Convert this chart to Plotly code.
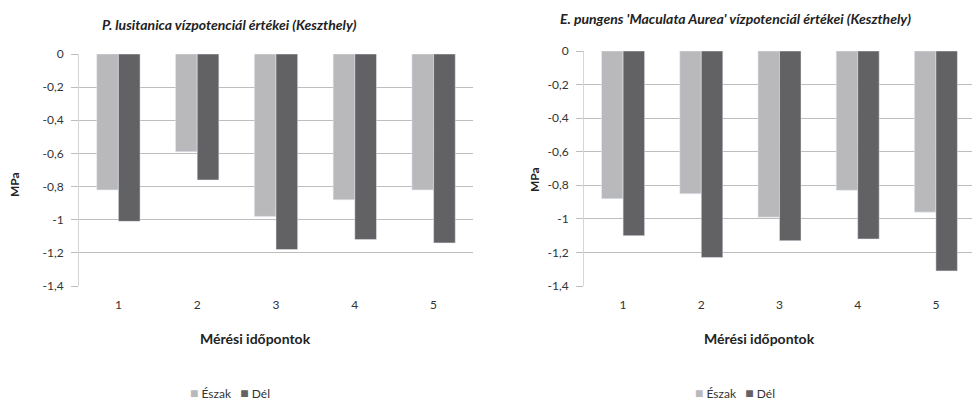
import plotly.graph_objects as go

categories = ["1", "2", "3", "4", "5"]
series_names = ["Észak", "Dél"]
left_north = [-0.82, -0.59, -0.98, -0.88, -0.82]
left_south = [-1.01, -0.76, -1.18, -1.12, -1.14]
right_north = [-0.88, -0.85, -0.99, -0.83, -0.96]
right_south = [-1.10, -1.23, -1.13, -1.12, -1.31]
tick_vals = [0, -0.2, -0.4, -0.6, -0.8, -1, -1.2, -1.4]
tick_text = ["0", "-0,2", "-0,4", "-0,6", "-0,8", "-1", "-1,2", "-1,4"]
title_left = "P. lusitanica vízpotenciál értékei (Keszthely)"
title_right = "E. pungens 'Maculata Aurea' vízpotenciál értékei (Keszthely)"
x_title = "Mérési időpontok"
y_title = "MPa"

C_N = "#b9b9bc"
C_S = "#626264"
FONT = "Lato"
W, H = 980, 403
OFF = 8  # default page body margin

fig = go.Figure()
fig.add_trace(go.Bar(x=categories, y=left_north, name=series_names[0], marker_color=C_N,
                     xaxis="x", yaxis="y", showlegend=False))
fig.add_trace(go.Bar(x=categories, y=left_south, name=series_names[1], marker_color=C_S,
                     xaxis="x", yaxis="y", showlegend=False))
fig.add_trace(go.Bar(x=categories, y=right_north, name=series_names[0], marker_color=C_N,
                     xaxis="x2", yaxis="y2", showlegend=False))
fig.add_trace(go.Bar(x=categories, y=right_south, name=series_names[1], marker_color=C_S,
                     xaxis="x2", yaxis="y2", showlegend=False))

def px(x):
    return (x - OFF) / W

def py(y):
    return 1 - (y - OFF) / H

xcommon = dict(showgrid=False, zeroline=False, showline=False, ticks="", automargin=False,
               ticklabelstandoff=10, tickfont=dict(size=12, color="#333"))
ycommon = dict(range=[-1.4, 0], tickvals=tick_vals, ticktext=tick_text, automargin=False,
               showgrid=True, gridcolor="#bdbdbd", gridwidth=1, zeroline=False,
               showline=True, linecolor="#d6d6d6", ticks="outside", ticklen=7,
               tickcolor="#bdbdbd", ticklabelstandoff=5, tickfont=dict(size=12, color="#333"))
topcommon = dict(side="top", showline=True, linecolor="#bdbdbd", ticks="inside", ticklen=5,
                 tickcolor="#bdbdbd", tickvals=[0.5, 1.5, 2.5, 3.5, 4.5], automargin=False,
                 showticklabels=False, showgrid=False, zeroline=False, range=[-0.5, 4.5])

fig.update_layout(
    width=W, height=H,
    margin=dict(l=0, r=0, t=0, b=0, autoexpand=False),
    paper_bgcolor="white", plot_bgcolor="white",
    font=dict(family=FONT, size=12, color="#333"),
    separators=", ",
    barmode="group", bargap=0.45, bargroupgap=0,
    xaxis=dict(domain=[px(79), px(473)], anchor="y", **xcommon),
    yaxis=dict(domain=[py(286), py(54)], anchor="x", **ycommon),
    xaxis2=dict(domain=[px(584), px(975)], anchor="y2", **xcommon),
    yaxis2=dict(domain=[py(286), py(51)], anchor="x2", **ycommon),
    xaxis3=dict(overlaying="x", anchor="y", **topcommon),
    xaxis4=dict(overlaying="x2", anchor="y2", **topcommon),
    showlegend=False,
)

legend_text = (f'<span style="color:{C_N};font-size:14px">■</span> {series_names[0]}'
               f'&nbsp;&nbsp;&nbsp;<span style="color:{C_S};font-size:14px">■</span> {series_names[1]}')

ann = []
ann.append(dict(text="<b><i>" + title_left + "</i></b>", x=px(229), y=py(25), xref="paper", yref="paper",
                showarrow=False, font=dict(size=14, color="#222"), xanchor="center", yanchor="middle"))
ann.append(dict(text="<b><i>" + title_right + "</i></b>", x=px(735), y=py(18), xref="paper", yref="paper",
                showarrow=False, font=dict(size=14, color="#222"), xanchor="center", yanchor="middle"))
ann.append(dict(text="<b>" + x_title + "</b>", x=px(256), y=py(338), xref="paper", yref="paper",
                showarrow=False, font=dict(size=14, color="#222"), xanchor="center", yanchor="middle"))
ann.append(dict(text="<b>" + x_title + "</b>", x=px(759), y=py(338), xref="paper", yref="paper",
                showarrow=False, font=dict(size=14, color="#222"), xanchor="center", yanchor="middle"))
ann.append(dict(text="<b>" + y_title + "</b>", x=px(14), y=py(185), xref="paper", yref="paper",
                showarrow=False, textangle=-90, font=dict(size=12, color="#222"),
                xanchor="center", yanchor="middle"))
ann.append(dict(text="<b>" + y_title + "</b>", x=px(534), y=py(180), xref="paper", yref="paper",
                showarrow=False, textangle=-90, font=dict(size=12, color="#222"),
                xanchor="center", yanchor="middle"))
ann.append(dict(text=legend_text, x=px(230), y=py(392), xref="paper", yref="paper",
                showarrow=False, font=dict(size=12, color="#333"), xanchor="center", yanchor="middle"))
ann.append(dict(text=legend_text, x=px(735), y=py(392), xref="paper", yref="paper",
                showarrow=False, font=dict(size=12, color="#333"), xanchor="center", yanchor="middle"))
fig.update_layout(annotations=ann)

fig.write_html("out.html")
